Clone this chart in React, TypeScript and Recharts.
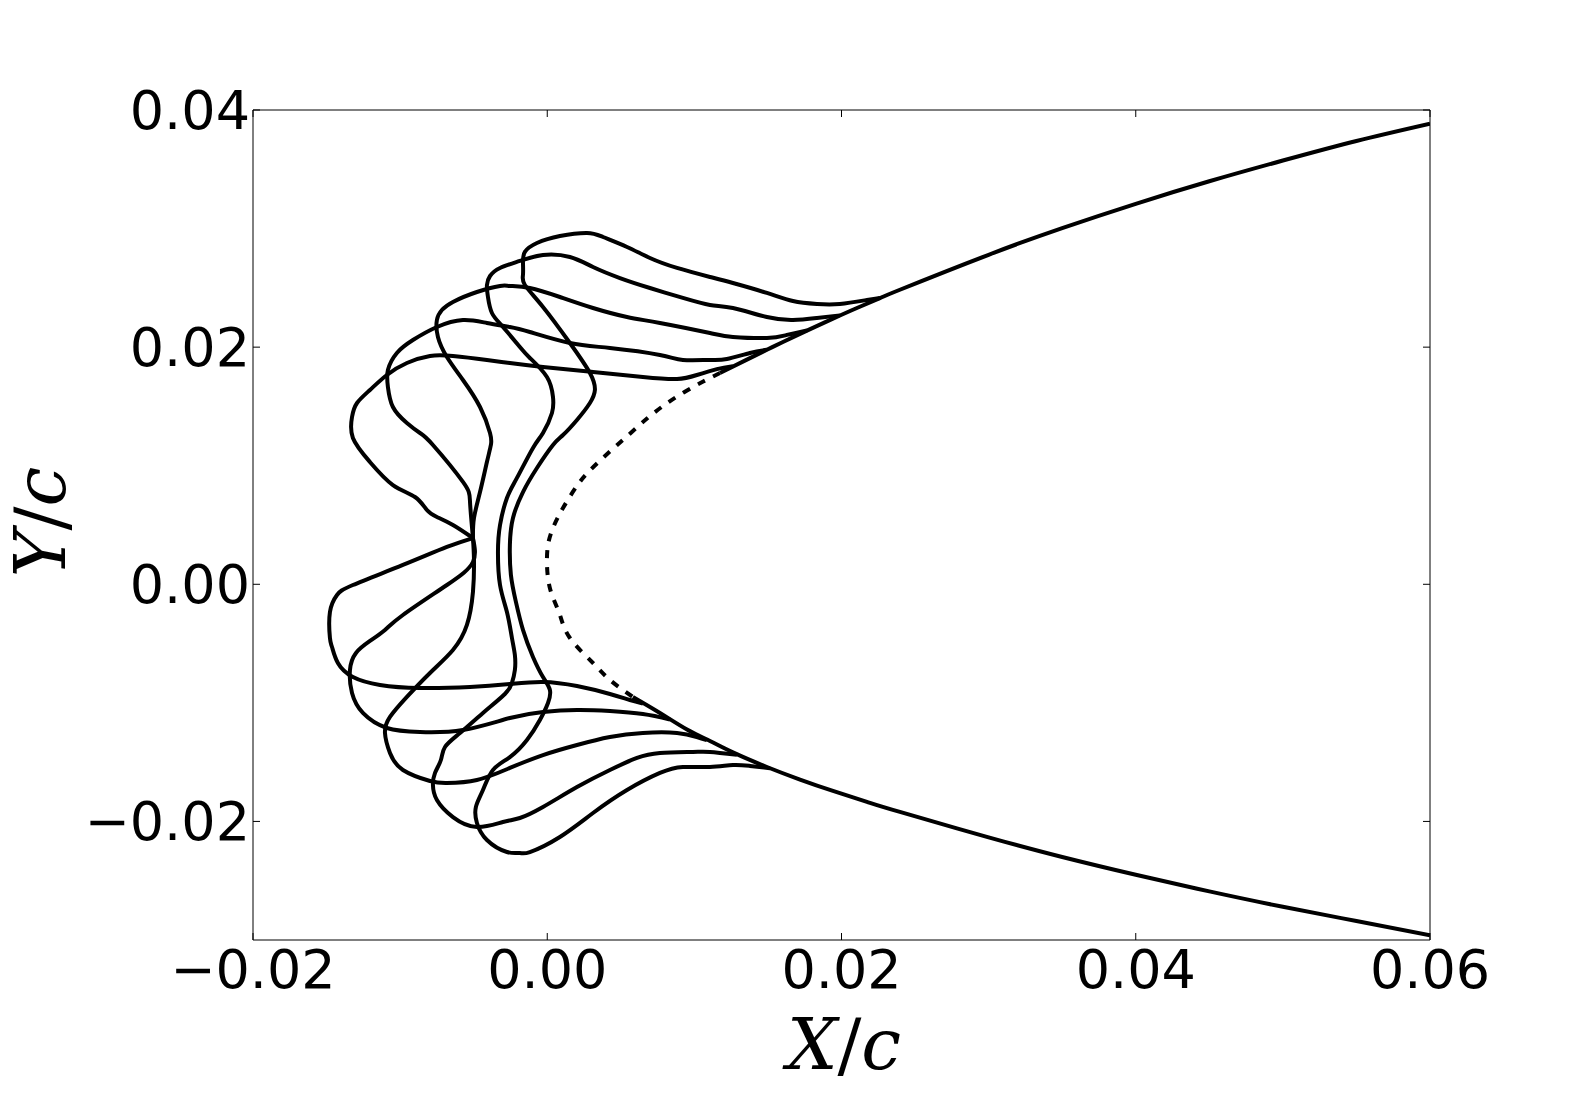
import React from 'react';
import { LineChart, Line, XAxis, YAxis } from 'recharts';

const xTicks = [-0.02, 0, 0.02, 0.04, 0.06];
const xTickLabels = ['\u22120.02', '0.00', '0.02', '0.04', '0.06'];
const yTicks = [-0.02, 0, 0.02, 0.04];
const yTickLabels = ['\u22120.02', '0.00', '0.02', '0.04'];

const shape1: [number, number][] = [
  [0.02261, 0.02415], [0.02173, 0.02398], [0.01989, 0.02364], [0.01833, 0.02364], [0.0167, 0.02389],
  [0.01493, 0.02457], [0.01262, 0.02541], [0.01106, 0.02592], [0.00882, 0.02668], [0.00698, 0.02752],
  [0.00542, 0.02845], [0.00379, 0.02929], [0.0027, 0.02963], [0.00086, 0.02937], [-0.0007, 0.02878],
  [-0.00152, 0.02803], [-0.00165, 0.0271], [-0.00165, 0.02609], [-0.00152, 0.02524], [-0.00029, 0.02339],
  [0.00154, 0.02035], [0.0029, 0.01782], [0.00324, 0.01639], [0.0029, 0.01529], [0.00202, 0.01386],
  [0.00107, 0.01259], [0.00039, 0.01175], [-0.0007, 0.00981], [-0.00165, 0.00778], [-0.00233, 0.00559],
  [-0.00254, 0.00331], [-0.00247, 0.00078], [-0.00213, -0.00149], [-0.00165, -0.00385], [-0.00097, -0.00613],
  [-0.00029, -0.00782], [0.00018, -0.00891], [0.00005, -0.01001], [-0.0005, -0.01144], [-0.00138, -0.01313],
  [-0.00254, -0.01457], [-0.00369, -0.01566], [-0.00437, -0.01735], [-0.00485, -0.01878], [-0.00478, -0.02013],
  [-0.0041, -0.02157], [-0.00274, -0.02258], [-0.00186, -0.02266], [-0.00118, -0.02258], [0.00086, -0.02131],
  [0.00311, -0.01929], [0.00542, -0.01735], [0.00766, -0.01591], [0.00922, -0.01541], [0.01106, -0.01541],
  [0.01262, -0.01524], [0.01378, -0.01532], [0.01514, -0.01551],
];

const shape2: [number, number][] = [
  [0.01989, 0.02268], [0.01833, 0.02246], [0.0167, 0.02229], [0.01493, 0.02254], [0.01262, 0.0233],
  [0.01106, 0.02356], [0.00922, 0.02415], [0.00698, 0.02499], [0.00494, 0.02583], [0.00311, 0.02676],
  [0.00154, 0.0276], [-0.00029, 0.02777], [-0.00186, 0.02727], [-0.00321, 0.02668], [-0.00389, 0.026],
  [-0.0041, 0.02524], [-0.00403, 0.02423], [-0.00376, 0.02288], [-0.00301, 0.0217], [-0.00186, 0.02001],
  [-0.00118, 0.01909], [-0.00002, 0.01748], [0.00039, 0.0158], [0.00032, 0.01445], [-0.00029, 0.01276],
  [-0.00097, 0.0115], [-0.00206, 0.00897], [-0.00274, 0.00728], [-0.00321, 0.005], [-0.00335, 0.00272],
  [-0.00321, -0.00006], [-0.00274, -0.00234], [-0.0024, -0.00453], [-0.0022, -0.00596], [-0.0022, -0.00723],
  [-0.0024, -0.00832], [-0.00288, -0.00925], [-0.00437, -0.01085], [-0.00593, -0.01254], [-0.00695, -0.01372],
  [-0.00723, -0.01482], [-0.00763, -0.01591], [-0.00777, -0.01693], [-0.0075, -0.01819], [-0.00641, -0.01963],
  [-0.00478, -0.02047], [-0.00301, -0.02005], [-0.00186, -0.01971], [-0.00029, -0.01878], [0.00202, -0.0171],
  [0.00426, -0.01566], [0.0061, -0.01465], [0.00766, -0.01423], [0.0099, -0.01414], [0.01106, -0.01414],
  [0.01289, -0.01437],
];

// shapes 3-5 all pass through the same point near the nose; each is split there
const shape3Upper: [number, number][] = [
  [0.01765, 0.02141], [0.01629, 0.02103], [0.01493, 0.02077], [0.01262, 0.02086], [0.01106, 0.02119],
  [0.00766, 0.02204], [0.00542, 0.02254], [0.00311, 0.0233], [0.00086, 0.02423], [-0.00118, 0.02499],
  [-0.00254, 0.02516], [-0.00321, 0.02516], [-0.00478, 0.02465], [-0.00641, 0.02381], [-0.00716, 0.02313],
  [-0.0075, 0.02229], [-0.00743, 0.02086], [-0.00682, 0.01917], [-0.00573, 0.01723], [-0.00457, 0.01495],
  [-0.00389, 0.01276], [-0.00383, 0.01175], [-0.0041, 0.01031], [-0.00457, 0.00778], [-0.00498, 0.00559],
  [-0.00505, 0.0039],
];
const shape3Lower: [number, number][] = [
  [-0.00505, 0.0039], [-0.00498, 0.00205], [-0.00505, -0.00065], [-0.00546, -0.00343], [-0.00641, -0.00554],
  [-0.00797, -0.00748], [-0.00954, -0.0095], [-0.01069, -0.01119], [-0.01103, -0.01254], [-0.01069, -0.01423],
  [-0.00981, -0.01566], [-0.00797, -0.01659], [-0.00682, -0.01676], [-0.00478, -0.0165], [-0.00254, -0.01549],
  [-0.00029, -0.0144], [0.00202, -0.01355], [0.00426, -0.01288], [0.0065, -0.01254], [0.00882, -0.01254],
  [0.01017, -0.01288], [0.01085, -0.01315],
];

const shape4Upper: [number, number][] = [
  [0.01493, 0.01978], [0.01378, 0.01951], [0.01221, 0.019], [0.01106, 0.01892], [0.00922, 0.01892],
  [0.00766, 0.01934], [0.00426, 0.01993], [0.00154, 0.02035], [-0.00118, 0.02128], [-0.00254, 0.0217],
  [-0.0041, 0.02204], [-0.00573, 0.02229], [-0.0075, 0.0217], [-0.00913, 0.0206], [-0.01022, 0.01951],
  [-0.01083, 0.01807], [-0.01083, 0.01664], [-0.01049, 0.01495], [-0.00954, 0.0136], [-0.00865, 0.01276],
  [-0.00777, 0.01175], [-0.00573, 0.00863], [-0.00525, 0.00694], [-0.00505, 0.0039],
];
const shape4Lower: [number, number][] = [
  [-0.00505, 0.0039], [-0.00505, 0.00188], [-0.00682, -0.00006], [-0.00981, -0.00259], [-0.01103, -0.00385],
  [-0.01205, -0.00478], [-0.013, -0.00579], [-0.01341, -0.00723], [-0.01327, -0.00917], [-0.01253, -0.01085],
  [-0.0109, -0.01212], [-0.00865, -0.01246], [-0.00573, -0.01229], [-0.00254, -0.01128], [-0.00029, -0.01077],
  [0.00202, -0.0106], [0.00426, -0.01069], [0.0065, -0.01094], [0.00834, -0.0114],
];

const shape5Upper: [number, number][] = [
  [0.01262, 0.0184], [0.01153, 0.01815], [0.01017, 0.01765], [0.00882, 0.01731], [0.0065, 0.01748],
  [0.00311, 0.01791], [-0.00029, 0.01833], [-0.00254, 0.01866], [-0.0041, 0.01892], [-0.00641, 0.01925],
  [-0.00797, 0.01925], [-0.00954, 0.01866], [-0.0109, 0.01765], [-0.01205, 0.01639], [-0.01293, 0.01529],
  [-0.01327, 0.01411], [-0.01321, 0.01234], [-0.01205, 0.01031], [-0.01049, 0.00837], [-0.00899, 0.00736],
  [-0.00818, 0.00627], [-0.0075, 0.00568], [-0.00641, 0.005], [-0.00505, 0.0039],
];
const shape5Lower: [number, number][] = [
  [-0.00505, 0.0039], [-0.00682, 0.00315], [-0.00981, 0.00163], [-0.01321, -0.00006], [-0.01429, -0.0009],
  [-0.01477, -0.00234], [-0.01477, -0.00453], [-0.01463, -0.00529], [-0.01423, -0.00664], [-0.01321, -0.00782],
  [-0.01137, -0.00849], [-0.00865, -0.00875], [-0.00525, -0.00866], [-0.00254, -0.00841], [-0.00029, -0.00824],
  [0.00202, -0.00858], [0.00426, -0.00925], [0.00562, -0.00976], [0.0065, -0.01005],
];

const airfoilUpper: [number, number][] = [
  [0.01174, 0.01782], [0.01357, 0.01895], [0.01493, 0.01978], [0.01602, 0.02043], [0.01765, 0.02139],
  [0.01942, 0.0224], [0.02105, 0.0233], [0.02261, 0.02413], [0.02397, 0.02484], [0.03, 0.02779],
  [0.035, 0.03004], [0.04, 0.03209], [0.045, 0.03399], [0.05, 0.03574], [0.055, 0.03739], [0.06, 0.03885],
];

const airfoilLower: [number, number][] = [
  [0.00582, -0.0095], [0.00766, -0.01085], [0.0095, -0.01225], [0.01106, -0.01322], [0.01262, -0.01418],
  [0.01493, -0.01541], [0.01718, -0.01647], [0.01942, -0.01743], [0.02173, -0.01835], [0.02397, -0.0192],
  [0.03, -0.02134], [0.035, -0.023], [0.04, -0.0245], [0.045, -0.0259], [0.05, -0.0272], [0.055, -0.0284],
  [0.06, -0.0296],
];

const airfoilNose: [number, number][] = [
  [0.01174, 0.01782], [0.0106, 0.0171], [0.0093, 0.0162], [0.008, 0.01515], [0.0068, 0.014],
  [0.0056, 0.01268], [0.00426, 0.0112], [0.0029, 0.0096], [0.00202, 0.0083], [0.00107, 0.00643],
  [0.00039, 0.00475], [0.00005, 0.00331], [-0.00002, 0.00188], [0.00005, 0.00053], [0.00032, -0.0009],
  [0.00086, -0.00259], [0.00154, -0.00453], [0.00311, -0.00664], [0.00426, -0.00807], [0.00582, -0.0095],
];

const toPts = (a: [number, number][]) => a.map(([x, y]) => ({ x, y }));

const W = 1589;
const H = 1106;
const FONT = '"DejaVu Sans", sans-serif';
const TICK_LEN = 7;

function BottomTick(props: any) {
  const { x, y, payload } = props;
  const i = xTicks.indexOf(payload.value);
  return (
    <g>
      <line x1={x} y1={y} x2={x} y2={y - TICK_LEN} stroke="#000" strokeWidth={1} />
      <text x={x} y={y + 48} textAnchor="middle" fontSize={54} fontFamily={FONT} fill="#000">
        {i >= 0 ? xTickLabels[i] : String(payload.value)}
      </text>
    </g>
  );
}

function LeftTick(props: any) {
  const { x, y, payload } = props;
  const i = yTicks.indexOf(payload.value);
  return (
    <g>
      <line x1={x} y1={y} x2={x + TICK_LEN} y2={y} stroke="#000" strokeWidth={1} />
      <text x={x - 3} y={y + 19} textAnchor="end" fontSize={54} fontFamily={FONT} fill="#000">
        {i >= 0 ? yTickLabels[i] : String(payload.value)}
      </text>
    </g>
  );
}

function TopTick(props: any) {
  const { x, y } = props;
  return <line x1={x} y1={y} x2={x} y2={y + TICK_LEN} stroke="#000" strokeWidth={1} />;
}

function RightTick(props: any) {
  const { x, y } = props;
  return <line x1={x} y1={y} x2={x - TICK_LEN} y2={y} stroke="#000" strokeWidth={1} />;
}

const series = [
  { key: 'airU', data: airfoilUpper, dash: undefined },
  { key: 'airL', data: airfoilLower, dash: undefined },
  { key: 'nose', data: airfoilNose, dash: '8 9' },
  { key: 's1', data: shape1, dash: undefined },
  { key: 's2', data: shape2, dash: undefined },
  { key: 's3u', data: shape3Upper, dash: undefined },
  { key: 's3l', data: shape3Lower, dash: undefined },
  { key: 's4u', data: shape4Upper, dash: undefined },
  { key: 's4l', data: shape4Lower, dash: undefined },
  { key: 's5u', data: shape5Upper, dash: undefined },
  { key: 's5l', data: shape5Lower, dash: undefined },
];

const axisLine = { stroke: '#000', strokeWidth: 1 };

export default function App() {
  return (
    <div style={{ position: 'absolute', left: 0, top: 0, width: W, height: H, background: '#fff' }}>
      <LineChart width={W} height={H} margin={{ top: 109, right: 158, bottom: 165, left: 252 }}>
        <XAxis
          xAxisId="b"
          type="number"
          dataKey="x"
          orientation="bottom"
          domain={[-0.02, 0.06]}
          ticks={xTicks}
          interval={0}
          height={1}
          tickSize={0}
          tickMargin={0}
          tickLine={false}
          tick={<BottomTick />}
          axisLine={axisLine}
          allowDataOverflow
        />
        <XAxis
          xAxisId="t"
          type="number"
          dataKey="x"
          orientation="top"
          domain={[-0.02, 0.06]}
          ticks={xTicks}
          interval={0}
          height={1}
          tickSize={0}
          tickMargin={0}
          tickLine={false}
          tick={<TopTick />}
          axisLine={axisLine}
          allowDataOverflow
        />
        <YAxis
          yAxisId="l"
          type="number"
          orientation="left"
          domain={[-0.03, 0.04]}
          ticks={yTicks}
          interval={0}
          width={1}
          tickSize={0}
          tickMargin={0}
          tickLine={false}
          tick={<LeftTick />}
          axisLine={axisLine}
          allowDataOverflow
        />
        <YAxis
          yAxisId="r"
          type="number"
          orientation="right"
          domain={[-0.03, 0.04]}
          ticks={yTicks}
          interval={0}
          width={1}
          tickSize={0}
          tickMargin={0}
          tickLine={false}
          tick={<RightTick />}
          axisLine={axisLine}
          allowDataOverflow
        />
        {series.map((s) => (
          <Line
            key={s.key}
            xAxisId="b"
            yAxisId="l"
            data={toPts(s.data)}
            dataKey="y"
            type="natural"
            stroke="#000"
            strokeWidth={4}
            strokeDasharray={s.dash}
            strokeLinejoin="round"
            strokeLinecap="butt"
            dot={false}
            activeDot={false}
            isAnimationActive={false}
          />
        ))}
      </LineChart>
      <svg
        width={W}
        height={H}
        style={{ position: 'absolute', left: 0, top: 0, pointerEvents: 'none' }}
      >
        <text
          x={844}
          y={1069}
          textAnchor="middle"
          fontSize={71}
          fontFamily='"DejaVu Serif", serif'
          fill="#000"
        >
          <tspan fontStyle="italic">X</tspan>
          <tspan>/</tspan>
          <tspan fontStyle="italic">c</tspan>
        </text>
        <text
          x={65}
          y={522}
          textAnchor="middle"
          fontSize={71}
          fontFamily='"DejaVu Serif", serif'
          fill="#000"
          transform="rotate(-90 65 522)"
        >
          <tspan fontStyle="italic">Y</tspan>
          <tspan>/</tspan>
          <tspan fontStyle="italic">c</tspan>
        </text>
      </svg>
    </div>
  );
}
